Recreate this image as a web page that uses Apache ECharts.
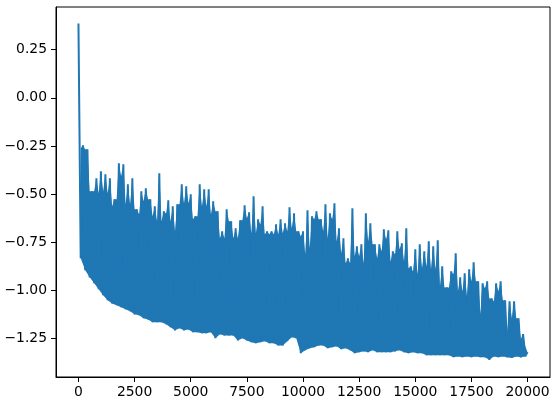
<!DOCTYPE html>
<html>
<head>
<meta charset="utf-8">
<script src="https://cdn.jsdelivr.net/npm/echarts@6/dist/echarts.min.js"></script>
<style>
html,body{margin:0;padding:0;background:#fff}
#js_chart{width:556px;height:405px}
</style>
</head>
<body>
<div id="js_chart"></div>
<script>
// one sample block every 200 steps: peak at 200*i, trough (and the dip between peaks) at 200*i+100
var stepSize = 200;
var upperVals = [0.385, -0.247, -0.267, -0.485, -0.418, -0.382, -0.397, -0.418, -0.527, -0.340,
    -0.345, -0.449, -0.418, -0.579, -0.485, -0.470, -0.527, -0.563, -0.392, -0.589,
    -0.532, -0.563, -0.553, -0.449, -0.459, -0.501, -0.615, -0.449, -0.475, -0.475,
    -0.537, -0.589, -0.693, -0.579, -0.641, -0.677, -0.636, -0.558, -0.594, -0.511,
    -0.631, -0.563, -0.693, -0.693, -0.657, -0.631, -0.651, -0.568, -0.600, -0.693,
    -0.693, -0.584, -0.615, -0.589, -0.631, -0.553, -0.600, -0.548, -0.677, -0.729,
    -0.833, -0.574, -0.771, -0.760, -0.600, -0.651, -0.760, -0.760, -0.683, -0.688,
    -0.797, -0.693, -0.755, -0.677, -0.875, -0.786, -0.760, -0.797, -0.745, -0.771,
    -0.740, -0.875, -0.984, -0.901, -0.807, -0.932, -0.911, -0.890, -0.854, -0.952,
    -0.963, -0.952, -1.041, -0.963, -0.952, -1.051, -1.056, -1.056, -1.144, -1.227];
var dipVals = [-0.262, -0.267, -0.485, -0.485, -0.496, -0.485, -0.496, -0.563, -0.527, -0.407,
    -0.553, -0.553, -0.579, -0.605, -0.537, -0.527, -0.615, -0.641, -0.641, -0.600,
    -0.641, -0.693, -0.553, -0.548, -0.548, -0.631, -0.615, -0.563, -0.563, -0.605,
    -0.589, -0.729, -0.729, -0.641, -0.729, -0.729, -0.636, -0.625, -0.703, -0.703,
    -0.657, -0.708, -0.708, -0.708, -0.708, -0.703, -0.693, -0.677, -0.693, -0.719,
    -0.812, -0.781, -0.631, -0.631, -0.693, -0.729, -0.631, -0.745, -0.807, -0.859,
    -0.859, -0.823, -0.823, -0.859, -0.745, -0.760, -0.833, -0.797, -0.734, -0.849,
    -0.812, -0.786, -0.849, -0.885, -0.901, -0.916, -0.885, -0.875, -0.890, -0.890,
    -0.978, -0.984, -0.984, -0.916, -1.004, -1.004, -1.030, -0.952, -0.952, -1.124,
    -0.989, -1.041, -1.056, -1.004, -1.051, -1.222, -1.144, -1.144, -1.253, -1.290];
var lowerVals = [-0.833, -0.895, -0.932, -0.963, -0.994, -1.025, -1.051, -1.067, -1.077, -1.087,
    -1.098, -1.108, -1.124, -1.129, -1.144, -1.150, -1.165, -1.165, -1.165, -1.175,
    -1.191, -1.207, -1.196, -1.207, -1.202, -1.217, -1.217, -1.222, -1.222, -1.217,
    -1.248, -1.227, -1.233, -1.233, -1.233, -1.259, -1.248, -1.259, -1.269, -1.274,
    -1.269, -1.264, -1.274, -1.274, -1.285, -1.285, -1.264, -1.243, -1.248, -1.326,
    -1.310, -1.300, -1.295, -1.285, -1.285, -1.300, -1.295, -1.290, -1.305, -1.300,
    -1.310, -1.326, -1.321, -1.316, -1.321, -1.310, -1.321, -1.321, -1.321, -1.321,
    -1.316, -1.310, -1.321, -1.326, -1.321, -1.326, -1.326, -1.336, -1.336, -1.336,
    -1.336, -1.336, -1.336, -1.347, -1.342, -1.347, -1.342, -1.347, -1.342, -1.347,
    -1.347, -1.360, -1.342, -1.347, -1.342, -1.347, -1.350, -1.342, -1.347, -1.342];
var lastStep = 19999;
var lastVal = -1.32;
var xTicks = [0, 2500, 5000, 7500, 10000, 12500, 15000, 17500, 20000];
var yTicks = [0.25, 0, -0.25, -0.5, -0.75, -1, -1.25];

var linePoints = [];
for (var i = 0; i < upperVals.length; i++) {
    linePoints.push([i * stepSize, upperVals[i]]);
    linePoints.push([i * stepSize + stepSize / 2, lowerVals[i]]);
}
linePoints.push([lastStep, lastVal]);

// solid band under the spikes: peaks and dips on top, troughs below
var bandPoints = [[stepSize / 2, dipVals[0]]];
for (var j = 1; j < upperVals.length; j++) {
    bandPoints.push([j * stepSize, upperVals[j]]);
    bandPoints.push([j * stepSize + stepSize / 2, dipVals[j]]);
}
bandPoints.push([lastStep, lastVal]);
for (var k = lowerVals.length - 1; k >= 0; k--) bandPoints.push([k * stepSize + stepSize / 2, lowerVals[k]]);

var blue = '#1f77b4';
var font = 'DejaVu Sans';

var myChart = echarts.init(document.getElementById('js_chart'));
var option = {
    backgroundColor: '#fff',
    animation: false,
    grid: {
        left: 56, right: 6, top: 7, bottom: 28,
        show: true, borderColor: '#000', borderWidth: 1,
        outerBoundsMode: 'none'
    },
    xAxis: {
        type: 'value',
        min: -1000,
        max: 21000,
        axisLine: {onZero: false, lineStyle: {color: '#000', width: 1}},
        axisTick: {customValues: xTicks, length: 5, lineStyle: {color: '#000', width: 1}},
        axisLabel: {
            customValues: xTicks, margin: 8, color: '#000',
            fontFamily: font, fontSize: 13.9,
            formatter: function(v){ return String(v); }
        },
        splitLine: {show: false}
    },
    yAxis: {
        type: 'value',
        min: -1.449,
        max: 0.471,
        axisLine: {show: true, onZero: false, lineStyle: {color: '#000', width: 1}},
        axisTick: {show: true, customValues: yTicks, length: 5, lineStyle: {color: '#000', width: 1}},
        axisLabel: {
            customValues: yTicks, margin: 9, color: '#000',
            fontFamily: font, fontSize: 13.9,
            formatter: function(v){ return v.toFixed(2).replace('-', '\u2212'); }
        },
        splitLine: {show: false}
    },
    series: [
        {
            type: 'custom',
            silent: true,
            clip: true,
            data: [[0, 0]],
            renderItem: function(params, api){
                var pts = bandPoints.map(function(p){ return api.coord(p); });
                return {type: 'polygon', shape: {points: pts}, style: {fill: blue}};
            }
        },
        {
            type: 'line',
            data: linePoints,
            showSymbol: false,
            symbol: 'none',
            lineStyle: {color: blue, width: 2},
            clip: true
        }
    ]
};
myChart.setOption(option);
window.addEventListener('resize', function(){ myChart.resize(); });
</script>
</body>
</html>
